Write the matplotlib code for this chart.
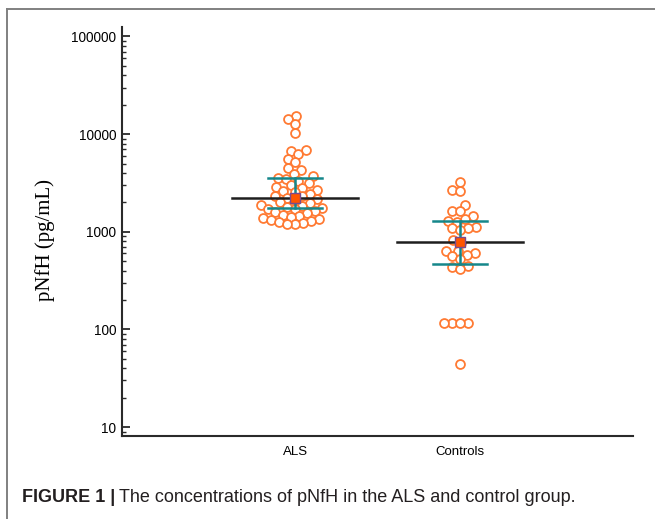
import numpy as np
import matplotlib.pyplot as plt
from matplotlib.ticker import LogLocator, FixedLocator, NullFormatter

# values (pg/mL)
groups = ["ALS", "Controls"]
als = [15500, 14200, 12800, 10300,
       6800, 6700, 6200, 5600, 5200, 4500, 4300,
       3900, 3700, 3550, 3500,
       3300, 3150, 3000, 2900,
       2800, 2700, 2600, 2550,
       2450, 2350, 2300, 2200, 2150,
       2100, 2000, 1950, 1900, 1850,
       1800, 1750, 1720, 1700, 1650,
       1600, 1550, 1500, 1450,
       1420, 1380, 1350, 1320,
       1280, 1250, 1220, 1200, 1200]
controls = [3200, 2650, 2600, 1900, 1650, 1630, 1440, 1360, 1280, 1260,
            1130, 1100, 1080, 1050, 815, 770, 640, 630,
            600, 580, 560, 530, 445, 440, 420,
            117, 117, 117, 117, 44]
centre = [2200, 790]
ci_low = [1760, 470]
ci_high = [3580, 1300]

W, H = 655, 519
fig = plt.figure(figsize=(W / 100, H / 100), dpi=100)
ax = fig.add_axes([122 / W, 1 - 436 / H, (633 - 122) / W, (436 - 27) / H])
ax.set_yscale("log")
ax.set_xlim(-0.05, 3.05)
ax.set_ylim(8.1, 125000)

orange = "#ff7a33"
teal = "#15878a"


def swarm(xc, vals, d=8.2):
    # simple beeswarm in pixel space, returns data x positions
    pts = np.array([[xc, v] for v in vals])
    pix = ax.transData.transform(pts)
    order = np.argsort(pix[:, 1])
    placed = []
    xs = np.zeros(len(vals))
    cx = pix[0, 0]
    for i in order:
        y = pix[i, 1]
        cands = [cx]
        for px, py in placed:
            dy = abs(py - y)
            if dy < d:
                dx = np.sqrt(d * d - dy * dy)
                cands += [px - dx, px + dx]
        cands.sort(key=lambda c: abs(c - cx))
        for c in cands:
            if all((c - px) ** 2 + (y - py) ** 2 >= d * d - 1e-6 for px, py in placed):
                break
        placed.append((c, y))
        xs[i] = c
    back = ax.transData.inverted().transform(np.column_stack([xs, pix[:, 1]]))
    return back[:, 0]


for k, vals in enumerate([als, controls]):
    xc = k + 1
    xs = swarm(xc, vals)
    ax.plot(xs, vals, "o", ms=6.4, mfc="white", mec=orange, mew=1.3, zorder=2)
    ax.plot([xc - 0.38, xc + 0.38], [centre[k]] * 2, color="#1e1e1e", lw=1.8, zorder=3)
    ax.plot([xc - 0.165, xc + 0.165], [ci_high[k]] * 2, color=teal, lw=1.8, zorder=4)
    ax.plot([xc - 0.165, xc + 0.165], [ci_low[k]] * 2, color=teal, lw=1.8, zorder=4)
    ax.plot([xc, xc], [ci_low[k], ci_high[k]], color=teal, lw=1.8, zorder=4)
    ax.plot([xc], [centre[k]], "s", ms=6.5, mfc="#ff5500", mec="#7b4a8c", mew=1.0, zorder=5)

for s in ["top", "right"]:
    ax.spines[s].set_visible(False)
for s in ["left", "bottom"]:
    ax.spines[s].set_linewidth(1.5)
    ax.spines[s].set_color("#2a2a2a")

ax.yaxis.set_major_locator(FixedLocator([10, 100, 1000, 10000, 100000]))
ax.yaxis.set_minor_locator(LogLocator(base=10, subs=np.arange(2, 10), numticks=20))
ax.yaxis.set_minor_formatter(NullFormatter())
ax.set_yticklabels(["10", "100", "1000", "10000", "100000"])
ax.tick_params(axis="y", which="major", direction="in", length=6, width=1.3,
               color="#2a2a2a", labelsize=9.8, pad=4)
ax.tick_params(axis="y", which="minor", direction="in", length=3, width=1.0,
               color="#2a2a2a")
ax.set_xticks([1, 2])
ax.set_xticklabels(groups)
ax.tick_params(axis="x", length=0, labelsize=9.5, pad=7)
for t in ax.get_xticklabels() + ax.get_yticklabels():
    t.set_fontfamily("Liberation Sans")

fig.text(45 / W, 1 - 240 / H, "pNfH (pg/mL)", rotation=90, ha="center", va="center",
         fontsize=15, family="Liberation Serif")

# frame around the figure panel
fig.add_artist(plt.Line2D([7 / W, 7 / W], [0, 1 - 9 / H], color="#808080", lw=1.4))
fig.add_artist(plt.Line2D([7 / W, 1], [1 - 9 / H, 1 - 9 / H], color="#808080", lw=1.4))

# caption
t1 = fig.text(22 / W, 1 - 497 / H, "FIGURE 1 |", fontsize=13, fontweight="bold",
              family="Liberation Sans", color="#231f20", va="center")
fig.canvas.draw()
bb = t1.get_window_extent()
fig.text((bb.x1 + 4) / W, 1 - 497 / H,
         "The concentrations of pNfH in the ALS and control group.",
         fontsize=13, family="Liberation Sans", color="#231f20", va="center")

fig.savefig("out.png", dpi=100)
